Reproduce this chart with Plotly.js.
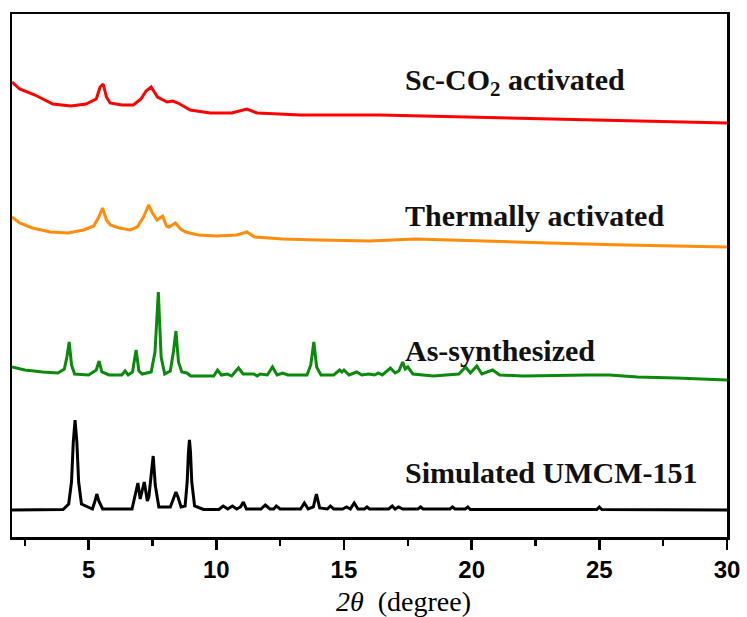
<!DOCTYPE html>
<html>
<head>
<meta charset="utf-8">
<script src="https://cdn.plot.ly/plotly-3.0.1.min.js"></script>
<style>html,body{margin:0;padding:0;background:#fff;}#chart{width:747px;height:617px;}</style>
</head>
<body>
<div id="chart"></div>
<script>
// 2theta positions (degree) and stacked relative intensities (arbitrary units, offset stacked)
const simX = [2, 4.0, 4.22, 4.33, 4.4, 4.47, 4.54, 4.61, 4.72, 5.15, 5.25, 5.32, 5.4, 5.55, 6.7, 6.84, 6.93, 7.02, 7.07, 7.18, 7.3, 7.36, 7.45, 7.53, 7.61, 7.75, 8.2, 8.34, 8.42, 8.5, 8.62, 8.78, 8.86, 8.91, 8.95, 8.99, 9.04, 9.15, 9.5, 10.1, 10.27, 10.45, 10.63, 10.8, 10.95, 11.06, 11.18, 11.75, 11.92, 12.1, 12.25, 12.35, 12.5, 13.3, 13.45, 13.6, 13.8, 13.92, 14.05, 14.35, 14.47, 14.6, 14.95, 15.1, 15.25, 15.4, 15.55, 15.8, 15.9, 16.0, 16.75, 16.89, 17.0, 17.14, 17.3, 17.9, 18.0, 18.1, 19.15, 19.25, 19.35, 19.75, 19.85, 19.95, 24.9, 25.0, 25.1, 30];
const simY = [27, 27.5, 33, 55, 95, 117, 95, 55, 33, 28, 36, 43, 36, 28, 28, 44, 54, 38, 44, 55, 36, 40, 62, 81, 52, 30, 30, 40, 45, 40, 30, 31, 55, 85, 97, 85, 55, 31, 27.5, 27.5, 31, 28, 31, 28, 30, 35, 28, 28, 32, 28, 28, 31, 28, 28, 34, 28, 30, 43, 29, 28, 31, 28, 28, 30, 28, 34, 28, 28, 30, 28, 28, 31, 28, 30, 28, 28, 30, 28, 28, 30, 28, 28, 30, 27.5, 27.5, 30, 27.5, 27];

const asX = [2, 2.5, 3.2, 3.8, 4.05, 4.15, 4.24, 4.33, 4.45, 5.0, 5.3, 5.41, 5.52, 5.8, 6.3, 6.43, 6.55, 6.72, 6.86, 6.97, 7.1, 7.45, 7.6, 7.73, 7.84, 7.98, 8.2, 8.32, 8.42, 8.52, 8.65, 8.85, 9.0, 9.9, 10.05, 10.2, 10.43, 10.6, 10.87, 11.05, 11.47, 11.6, 11.72, 12.0, 12.2, 12.38, 12.6, 12.8, 13.55, 13.7, 13.82, 13.93, 14.1, 14.6, 14.83, 14.92, 15.0, 15.2, 15.5, 15.7, 15.97, 16.2, 16.35, 16.5, 16.82, 17.0, 17.15, 17.3, 17.4, 17.5, 17.7, 18.5, 19.0, 19.5, 19.76, 19.95, 20.2, 20.4, 20.82, 21.1, 22, 23.6, 24.55, 25.4, 26.5, 28, 30];
const asY = [170, 167, 165, 164, 168, 180, 195, 172, 163, 162, 167, 176, 165, 162, 162, 166, 162, 165, 187, 166, 163, 165, 185, 245, 180, 163, 166, 185, 206, 175, 165, 164, 161, 161, 167, 162, 163, 161, 169, 163, 163, 161, 163, 162, 170, 162, 164, 162, 162, 172, 195, 170, 162, 162, 167, 165, 167, 162, 165, 162, 163, 162, 164, 162, 169, 164, 166, 175, 168, 170, 163, 161, 162, 163, 170, 164, 171, 163, 167, 162, 161, 162, 162, 162, 160, 159, 157];

const thX = [2, 2.3, 2.8, 3.5, 4.2, 4.8, 5.2, 5.4, 5.55, 5.7, 5.85, 6.2, 6.63, 6.9, 7.15, 7.35, 7.5, 7.68, 7.9, 8.05, 8.15, 8.4, 8.6, 8.8, 9.3, 10, 10.8, 11.2, 11.5, 12.6, 14, 16, 17.8, 20, 23, 26, 30];
const thY = [320, 314, 309, 305, 304, 307, 311, 320, 329, 317, 312, 309, 307, 310, 320, 332, 324, 317, 321, 311, 310, 314, 308, 305, 302, 301, 302, 305, 300, 298, 297, 296, 298, 296, 294, 292, 290];

const scX = [2, 2.3, 2.9, 3.6, 4.3, 4.9, 5.3, 5.45, 5.57, 5.7, 5.84, 6.3, 6.75, 7.05, 7.25, 7.45, 7.7, 8.07, 8.3, 8.5, 8.98, 9.76, 10.6, 11.2, 11.6, 13.3, 16.4, 20, 23, 26, 30];
const scY = [455, 448, 442, 433, 431, 433, 438, 450, 453, 440, 434, 432, 432, 438, 446, 450, 440, 435, 436, 434, 427, 424, 424, 428, 424, 422, 422, 420, 418, 416, 414];

const labels = ["Sc-CO<sub>2</sub> activated", "Thermally activated", "As-synthesized", "Simulated UMCM-151"];
const labelY = [455, 322, 187, 65];
const xTicks = [5, 10, 15, 20, 25, 30];

const serif = "Liberation Serif, Times New Roman, serif";
const traces = [
  {x: simX, y: simY, color: "#000000"},
  {x: asX, y: asY, color: "#0a8a0a"},
  {x: thX, y: thY, color: "#ff8c0a"},
  {x: scX, y: scY, color: "#ff0000"}
].map(t => ({x: t.x, y: t.y, type: "scatter", mode: "lines", line: {color: t.color, width: 3}, hoverinfo: "skip"}));

const annotations = labels.map((txt, i) => ({
  x: 17.3, y: labelY[i], xref: "x", yref: "y", xanchor: "left", yanchor: "middle",
  text: "<b>" + txt + "</b>", showarrow: false,
  font: {family: serif, size: 30, color: "#111"}
}));
annotations.push({
  x: 0.547, y: -0.123, xref: "paper", yref: "paper", xanchor: "center", yanchor: "middle",
  text: "<i>2θ</i>  (degree)", showarrow: false,
  font: {family: serif, size: 28, color: "#000"}
});

const layout = {
  width: 747, height: 617,
  margin: {l: 12, r: 20, t: 14, b: 80},
  paper_bgcolor: "#fff", plot_bgcolor: "#fff",
  showlegend: false,
  xaxis: {
    range: [2, 30], tickvals: xTicks, ticks: "outside", ticklen: 10, tickwidth: 2.5, tickcolor: "#000",
    minor: {ticks: "outside", ticklen: 6, tickwidth: 2.5, tickcolor: "#000", tick0: 0, dtick: 2.5},
    showline: true, linewidth: 2.5, linecolor: "#000", mirror: true,
    showgrid: false, zeroline: false,
    tickfont: {family: "Liberation Sans, Arial, sans-serif", size: 24, color: "#000", weight: "bold"}
  },
  yaxis: {
    range: [0, 523], showticklabels: false, ticks: "",
    showline: true, linewidth: 2.5, linecolor: "#000", mirror: true,
    showgrid: false, zeroline: false
  },
  annotations: annotations
};

Plotly.newPlot("chart", traces, layout, {displayModeBar: false, staticPlot: true});
</script>
</body>
</html>
